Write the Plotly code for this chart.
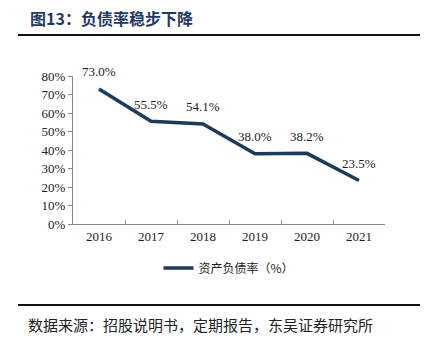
import plotly.graph_objects as go

years = ["2016", "2017", "2018", "2019", "2020", "2021"]
debt_ratio = [73.0, 55.5, 54.1, 38.0, 38.2, 23.5]
series_name = "资产负债率（%）"
y_ticks = [0, 10, 20, 30, 40, 50, 60, 70, 80]

NAVY = "#1B3A5E"
SERIF = "Liberation Serif, Times New Roman, serif"
CJK = "Noto Sans CJK SC, sans-serif"

# plot area in pixels: x 73..385, y 76..224
L, R, T, B = 73, 385, 76, 224
W, H = 432, 346


def px(x):
    return (x - L) / (R - L)


def py(y):
    return (B - y) / (B - T)


fig = go.Figure()
fig.add_trace(go.Scatter(
    x=years, y=debt_ratio, mode="lines", name=series_name,
    line=dict(color=NAVY, width=3.5),
))

annotations = []
# category positions are given by index so numeric-looking year strings are not read as numbers
for i, v in enumerate(debt_ratio):
    annotations.append(dict(
        x=i, y=v, xref="x", yref="y", text=f"{v:.1f}%", showarrow=False,
        yshift=17, font=dict(family=SERIF, size=13, color="#222"),
    ))

annotations.append(dict(
    x=px(28), y=py(18), xref="paper", yref="paper", xanchor="left", yanchor="middle",
    text="<b>图13：负债率稳步下降</b>", showarrow=False,
    font=dict(family=CJK, size=16, color="#1F3864"),
))
annotations.append(dict(
    x=px(26), y=py(324), xref="paper", yref="paper", xanchor="left", yanchor="middle",
    text="数据来源：招股说明书，定期报告，东吴证券研究所", showarrow=False,
    font=dict(family=CJK, size=15, color="#222"),
))

shapes = [
    dict(type="line", xref="paper", yref="paper", x0=px(18), x1=px(420),
         y0=py(35), y1=py(35), line=dict(color="#111", width=2)),
    dict(type="line", xref="paper", yref="paper", x0=px(18), x1=px(420),
         y0=py(305), y1=py(305), line=dict(color="#111", width=2)),
]

fig.update_layout(
    width=W, height=H,
    margin=dict(l=L, r=W - R, t=T, b=H - B),
    paper_bgcolor="white", plot_bgcolor="white",
    showlegend=True,
    legend=dict(orientation="h", x=0.5, xanchor="center", y=py(268), yanchor="middle",
                font=dict(family=CJK, size=12, color="#222"), itemwidth=30),
    annotations=annotations,
    shapes=shapes,
    xaxis=dict(
        type="category", tickson="boundaries", ticks="inside", ticklen=4,
        tickcolor="#888", showline=True, linecolor="#888", linewidth=1,
        showgrid=False, tickfont=dict(family=SERIF, size=13, color="#222"),
        range=[-0.5, 5.5],
    ),
    yaxis=dict(
        range=[0, 80], tickvals=y_ticks, ticktext=[f"{t}%" for t in y_ticks],
        ticks="outside", ticklen=4, tickcolor="#888", showline=True,
        linecolor="#888", linewidth=1, showgrid=False, zeroline=False,
        tickfont=dict(family=SERIF, size=13, color="#222"),
    ),
)

fig.write_html("out.html")
